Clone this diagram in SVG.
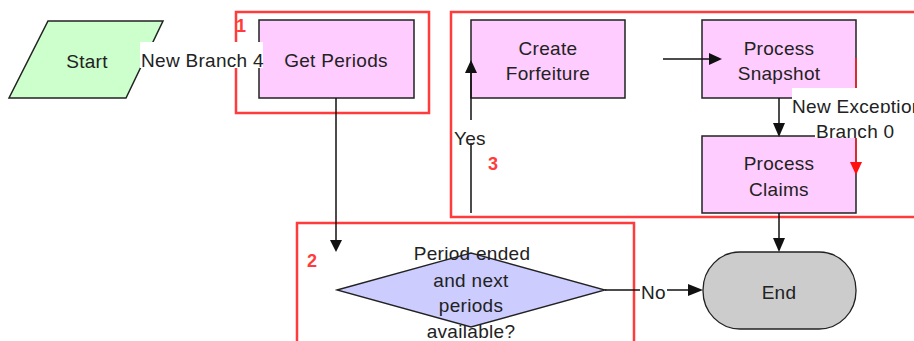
<svg xmlns="http://www.w3.org/2000/svg" width="914" height="341" viewBox="0 0 914 341">
<style>
text{font-family:"Liberation Sans",Arial,sans-serif;font-size:19px;letter-spacing:0.3px;fill:#222}
.c{text-anchor:middle}
.box{fill:#ffccff;stroke:#222;stroke-width:1.5}
.grp{fill:none;stroke:#ff3b3b;stroke-width:2.5}
.num{fill:#ff3b3b;font-weight:bold;font-size:18px}
.ln{stroke:#111;stroke-width:1.5;fill:none}
.ah{fill:#111}
.lb{fill:#fff}
</style>
<rect width="914" height="341" fill="#fff"/>
<g id="group1"><rect class="grp" x="236" y="12" width="193" height="101"/><text class="num" x="236" y="32">1</text></g>
<g id="group3"><rect class="grp" x="451" y="12" width="470" height="205"/><text class="num" x="488" y="170">3</text></g>
<g id="group2"><rect class="grp" x="297" y="223" width="337" height="130"/><text class="num" x="307" y="267">2</text></g>
<g id="start"><polygon points="48,21 163,21 126,98 9,98" fill="#ccffcc" stroke="#222" stroke-width="1.5"/><text class="c" x="87" y="68">Start</text></g>
<g id="get-periods"><rect class="box" x="259" y="20" width="155" height="78"/><text class="c" x="336" y="67">Get Periods</text></g>
<g id="create-forfeiture"><rect class="box" x="471" y="20" width="154" height="78"/><text class="c" x="548" y="55">Create</text><text class="c" x="548" y="80">Forfeiture</text></g>
<g id="process-snapshot"><rect class="box" x="702" y="20" width="154" height="78"/><text class="c" x="779" y="55">Process</text><text class="c" x="779" y="80">Snapshot</text></g>
<g id="process-claims"><rect class="box" x="702" y="136" width="154" height="77"/><text class="c" x="779" y="170">Process</text><text class="c" x="779" y="196">Claims</text></g>
<g id="decision"><polygon points="337,290 471,253 605,290 471,327" fill="#ccccff" stroke="#222" stroke-width="1.3"/></g>
<g id="end"><rect x="703" y="252" width="153" height="77" rx="37" ry="38" fill="#cccccc" stroke="#222" stroke-width="1.3"/><text class="c" x="779" y="299">End</text></g>
<g id="connectors">
<line class="ln" x1="336" y1="98" x2="336" y2="240"/><polygon class="ah" points="330,240 342,240 336,252"/>
<line class="ln" x1="471" y1="213" x2="471" y2="72"/><polygon class="ah" points="465,73 477,73 471,60"/>
<line class="ln" x1="663" y1="59" x2="710" y2="59"/><polygon class="ah" points="709,53 709,65 722,59"/>
<line class="ln" x1="779" y1="98" x2="779" y2="124"/><polygon class="ah" points="773,123 785,123 779,137"/>
<line class="ln" x1="779" y1="213" x2="779" y2="239"/><polygon class="ah" points="773,238 785,238 779,252"/>
<line class="ln" x1="605" y1="290" x2="689" y2="290"/><polygon class="ah" points="688,284 688,296 703,290"/>
<line x1="856" y1="58" x2="856" y2="163" stroke="#ff2020" stroke-width="1.5"/><polygon points="850,162 862,162 856,175" fill="#ff1010"/>
<rect class="lb" x="140" y="42" width="123" height="26"/><text x="141" y="67">New Branch 4</text>
<rect class="lb" x="453" y="120" width="36" height="23"/><text x="454" y="145">Yes</text>
<rect class="lb" x="792" y="88" width="122" height="25"/><text x="792" y="113">New Exception</text>
<rect class="lb" x="815" y="113" width="78" height="25"/><text x="816" y="138">Branch 0</text>
<rect class="lb" x="640" y="281" width="27" height="20"/><text x="641" y="299">No</text>
</g>
<g id="decision-label"><text class="c" x="472" y="260">Period ended</text><text class="c" x="471" y="287">and next</text><text class="c" x="471" y="312">periods</text><text class="c" x="471" y="338">available?</text></g>
</svg>
